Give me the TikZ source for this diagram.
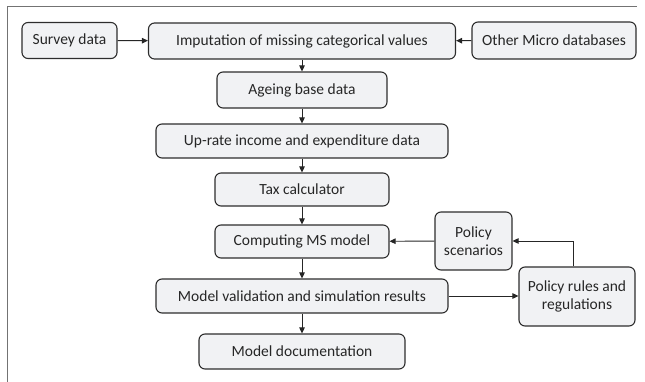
\documentclass[tikz,border=0pt]{standalone}
\usepackage{fontspec}
\setmainfont{Carlito}
\usetikzlibrary{arrows.meta,positioning}

\definecolor{boxfill}{RGB}{241,242,244}
\definecolor{boxline}{RGB}{45,45,45}

\begin{document}
\begin{tikzpicture}[x=1pt, y=-1pt,
    box/.style={draw=boxline, line width=1.1pt, fill=boxfill, rounded corners=6pt,
      inner sep=0pt, align=center, font=\fontsize{15.5}{18}\selectfont, text=black!85},
    flow/.style={-{Triangle[length=6pt,width=5.5pt]}, line width=0.9pt, draw=black!85}]
  \useasboundingbox (0,0) rectangle (645,382);
  % frame: only top and left rule
  \draw[line width=1.2pt, black!55] (637,6.5) -- (7.5,6.5) -- (7.5,382);

  % input row
  \node[box, minimum width=95pt, minimum height=36pt] (survey) at (69.5,40.5) {Survey data};
  \node[box, minimum width=307pt, minimum height=36pt] (imput) at (302,41) {Imputation of missing categorical values};
  \node[box, minimum width=164pt, minimum height=37pt] (micro) at (554,40.5) {Other Micro databases};

  % main column
  \node[box, minimum width=170pt, minimum height=36pt] (ageing) at (302,90) {Ageing base data};
  \node[box, minimum width=292pt, minimum height=34pt] (uprate) at (302,141) {Up-rate income and expenditure data};
  \node[box, minimum width=174pt, minimum height=33pt] (tax) at (302,189.5) {Tax calculator};
  \node[box, minimum width=174pt, minimum height=33pt] (msmodel) at (302,241.5) {Computing MS model};
  \node[box, minimum width=292pt, minimum height=34pt] (valid) at (302,296) {Model validation and simulation results};
  \node[box, minimum width=206pt, minimum height=35pt] (docu) at (302,351.5) {Model documentation};

  % policy side
  \node[box, minimum width=77pt, minimum height=58pt] (scen) at (473.5,241) {Policy\\scenarios};
  \node[box, minimum width=116pt, minimum height=59pt] (rules) at (577,296.5) {Policy rules and\\regulations};

  \draw[flow] (survey) -- (imput);
  \draw[flow] (micro) -- (imput);
  \draw[flow] (imput) -- (ageing);
  \draw[flow] (ageing) -- (uprate);
  \draw[flow] (uprate) -- (tax);
  \draw[flow] (tax) -- (msmodel);
  \draw[flow] (msmodel) -- (valid);
  \draw[flow] (valid) -- (docu);
  \draw[flow] (scen) -- (msmodel);
  \draw[flow] (valid.east) -- (valid.east -| rules.west);
  \draw[flow] (rules.north -| 573,0) |- (scen.east);
\end{tikzpicture}
\end{document}
